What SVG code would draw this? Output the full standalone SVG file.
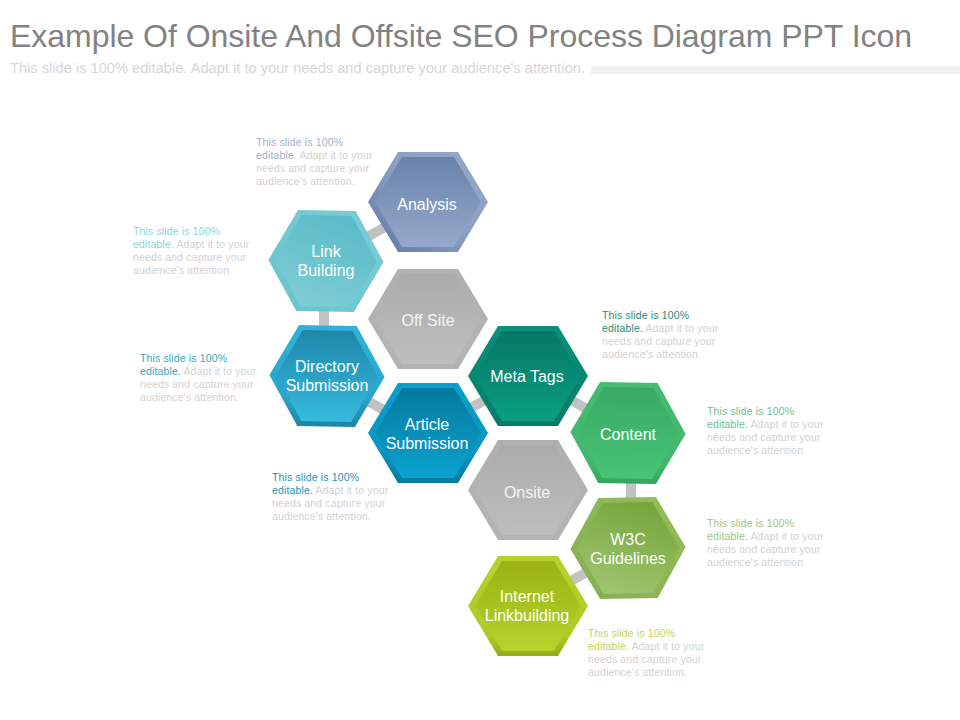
<svg xmlns="http://www.w3.org/2000/svg" xmlns:xlink="http://www.w3.org/1999/xlink" width="960" height="720" viewBox="0 0 960 720">
<style>
text{font-family:"Liberation Sans",Arial,sans-serif}
.title{font-size:32px;fill:#828282}
.sub{font-size:14px;fill:#d6d6d6}
.lbl{font-size:16px;fill:#fff;text-anchor:middle}
.lblg{font-size:16px;fill:#f4f4f4;text-anchor:middle}
.d{font-size:10.5px;fill:#d2d2d2;letter-spacing:.14px}
.c{stroke:#c2c2c2;stroke-width:10;fill:none}
</style>
<defs>
<polygon id="o" points="-60,0 -30,-50 30,-50 60,0 30,50 -30,50"/>
<polygon id="i" points="-53,0 -26,-45 26,-45 53,0 26,45 -26,45"/>
<linearGradient id="aO" x1="1" y1="0" x2="0" y2="1"><stop offset="0" stop-color="#98aac9"/><stop offset=".5" stop-color="#8a9ec0"/><stop offset="1" stop-color="#5d76a5"/></linearGradient>
<linearGradient id="aI" x1="0" y1="0" x2="0" y2="1"><stop offset="0" stop-color="#6983ac"/><stop offset="1" stop-color="#95a8ca"/></linearGradient>
<linearGradient id="lO" x1="1" y1="0" x2="0" y2="1"><stop offset="0" stop-color="#7ccdd5"/><stop offset="1" stop-color="#68c3cd"/></linearGradient>
<linearGradient id="lI" x1="0.7" y1="0" x2="0.3" y2="1"><stop offset="0" stop-color="#58bbc8"/><stop offset="1" stop-color="#80ccd5"/></linearGradient>
<linearGradient id="gO" x1="0" y1="0" x2="0" y2="1"><stop offset="0" stop-color="#b0b0b0"/><stop offset="1" stop-color="#b4b4b4"/></linearGradient>
<linearGradient id="gI" x1="0" y1="0" x2="0" y2="1"><stop offset="0" stop-color="#ababab"/><stop offset="1" stop-color="#bebebe"/></linearGradient>
<linearGradient id="dO" x1="0" y1="0" x2="0" y2="1"><stop offset="0" stop-color="#2fb3d9"/><stop offset=".7" stop-color="#2aa5c9"/><stop offset="1" stop-color="#1c86a6"/></linearGradient>
<linearGradient id="dI" x1="0" y1="0" x2="0" y2="1"><stop offset="0" stop-color="#1f87ab"/><stop offset="1" stop-color="#35bbde"/></linearGradient>
<linearGradient id="rO" x1="0" y1="0" x2="0" y2="1"><stop offset="0" stop-color="#0a9fcc"/><stop offset=".7" stop-color="#0995c0"/><stop offset="1" stop-color="#067b9f"/></linearGradient>
<linearGradient id="rI" x1="0" y1="0" x2="0" y2="1"><stop offset="0" stop-color="#067a9f"/><stop offset="1" stop-color="#0aa2cf"/></linearGradient>
<linearGradient id="mO" x1="0" y1="0" x2="0" y2="1"><stop offset="0" stop-color="#08917a"/><stop offset="1" stop-color="#067b68"/></linearGradient>
<linearGradient id="mI" x1="0" y1="0" x2="0" y2="1"><stop offset="0" stop-color="#047866"/><stop offset="1" stop-color="#0a9d82"/></linearGradient>
<linearGradient id="cO" x1="0" y1="0" x2="0" y2="1"><stop offset="0" stop-color="#47bb70"/><stop offset=".8" stop-color="#42b86e"/><stop offset="1" stop-color="#32a65f"/></linearGradient>
<linearGradient id="cI" x1="0" y1="0" x2="0" y2="1"><stop offset="0" stop-color="#38aa63"/><stop offset="1" stop-color="#47c476"/></linearGradient>
<linearGradient id="wO" x1="1" y1="0" x2="0" y2="1"><stop offset="0" stop-color="#93bf58"/><stop offset="1" stop-color="#86ae55"/></linearGradient>
<linearGradient id="wI" x1="0.7" y1="0" x2="0.3" y2="1"><stop offset="0" stop-color="#74a63a"/><stop offset="1" stop-color="#a0c570"/></linearGradient>
<linearGradient id="nO" x1="0" y1="0" x2="0" y2="1"><stop offset="0" stop-color="#b3d32c"/><stop offset=".8" stop-color="#aecb28"/><stop offset="1" stop-color="#93ab14"/></linearGradient>
<linearGradient id="nI" x1="0" y1="0" x2="0" y2="1"><stop offset="0" stop-color="#9bb211"/><stop offset="1" stop-color="#b4d52c"/></linearGradient>
</defs>
<rect width="960" height="720" fill="#fff"/>
<text class="title" x="10" y="47" textLength="902" lengthAdjust="spacing">Example Of Onsite And Offsite SEO Process Diagram PPT Icon</text>
<text class="sub" x="10" y="73" textLength="575" lengthAdjust="spacingAndGlyphs">This slide is 100% editable. Adapt it to your needs and capture your audience's attention.</text>
<rect x="591" y="66" width="369" height="8" fill="#f1f1f1"/>
<g id="connectors">
<path class="c" d="M360,241L394,222"/>
<path class="c" d="M324,305V332"/>
<path class="c" d="M361,397L394,416"/>
<path class="c" d="M462,413L494,395"/>
<path class="c" d="M562,395L594,413"/>
<path class="c" d="M631,478V505"/>
<path class="c" d="M562,586L594,568"/>
</g>
<g id="analysis"><use xlink:href="#o" href="#o" transform="translate(428,202)" fill="url(#aO)"/><use href="#i" xlink:href="#i" transform="translate(428,202)" fill="url(#aI)"/><text class="lbl" x="427" y="210">Analysis</text></g>
<g id="link-building"><use href="#o" xlink:href="#o" transform="translate(326,261) rotate(1) scale(.96,1.01)" fill="url(#lO)"/><use href="#i" xlink:href="#i" transform="translate(326,261) rotate(1) scale(.96,1.01)" fill="url(#lI)"/><text class="lbl" x="326" y="257">Link</text><text class="lbl" x="326" y="276">Building</text></g>
<g id="off-site"><use href="#o" xlink:href="#o" transform="translate(428,319)" fill="url(#gO)"/><use href="#i" xlink:href="#i" transform="translate(428,319)" fill="url(#gI)"/><text class="lblg" x="428" y="326">Off Site</text></g>
<g id="directory-submission"><use href="#o" xlink:href="#o" transform="translate(327,376) rotate(1) scale(.96,1.01)" fill="url(#dO)"/><use href="#i" xlink:href="#i" transform="translate(327,376) rotate(1) scale(.96,1.01)" fill="url(#dI)"/><text class="lbl" x="327" y="372">Directory</text><text class="lbl" x="327" y="391">Submission</text></g>
<g id="article-submission"><use href="#o" xlink:href="#o" transform="translate(428,433)" fill="url(#rO)"/><use href="#i" xlink:href="#i" transform="translate(428,433)" fill="url(#rI)"/><text class="lbl" x="427" y="430">Article</text><text class="lbl" x="427" y="449">Submission</text></g>
<g id="meta-tags"><use href="#o" xlink:href="#o" transform="translate(528,376)" fill="url(#mO)"/><use href="#i" xlink:href="#i" transform="translate(528,376)" fill="url(#mI)"/><text class="lbl" x="527" y="382">Meta Tags</text></g>
<g id="content"><use href="#o" xlink:href="#o" transform="translate(628,433) rotate(1) scale(.96,1.01)" fill="url(#cO)"/><use href="#i" xlink:href="#i" transform="translate(628,433) rotate(1) scale(.96,1.01)" fill="url(#cI)"/><text class="lbl" x="628" y="440">Content</text></g>
<g id="onsite"><use href="#o" xlink:href="#o" transform="translate(528,490)" fill="url(#gO)"/><use href="#i" xlink:href="#i" transform="translate(528,490)" fill="url(#gI)"/><text class="lblg" x="527" y="498">Onsite</text></g>
<g id="w3c-guidelines"><use href="#o" xlink:href="#o" transform="translate(628,548) rotate(-1) scale(.96,1.01)" fill="url(#wO)"/><use href="#i" xlink:href="#i" transform="translate(628,548) rotate(-1) scale(.96,1.01)" fill="url(#wI)"/><text class="lbl" x="628" y="545">W3C</text><text class="lbl" x="628" y="564">Guidelines</text></g>
<g id="internet-linkbuilding"><use href="#o" xlink:href="#o" transform="translate(528,606)" fill="url(#nO)"/><use href="#i" xlink:href="#i" transform="translate(528,606)" fill="url(#nI)"/><text class="lbl" x="527" y="602">Internet</text><text class="lbl" x="527" y="621">Linkbuilding</text></g>
<g id="notes">
<text class="d" x="256" y="146"><tspan fill="#9fb0cc">This slide is 100%</tspan><tspan x="256" dy="13" fill="#9fb0cc">editable.</tspan> Adapt it to your<tspan x="256" dy="13">needs and capture your</tspan><tspan x="256" dy="13">audience's attention.</tspan></text>
<text class="d" x="133" y="235"><tspan fill="#8fd3da">This slide is 100%</tspan><tspan x="133" dy="13" fill="#8fd3da">editable.</tspan> Adapt it to your<tspan x="133" dy="13">needs and capture your</tspan><tspan x="133" dy="13">audience's attention.</tspan></text>
<text class="d" x="140" y="362"><tspan fill="#3ca5c2">This slide is 100%</tspan><tspan x="140" dy="13" fill="#3ca5c2">editable.</tspan> Adapt it to your<tspan x="140" dy="13">needs and capture your</tspan><tspan x="140" dy="13">audience's attention.</tspan></text>
<text class="d" x="272" y="481"><tspan fill="#1c95bb">This slide is 100%</tspan><tspan x="272" dy="13" fill="#1c95bb">editable.</tspan> Adapt it to your<tspan x="272" dy="13">needs and capture your</tspan><tspan x="272" dy="13">audience's attention.</tspan></text>
<text class="d" x="602" y="319"><tspan fill="#1f8d7a">This slide is 100%</tspan><tspan x="602" dy="13" fill="#1f8d7a">editable.</tspan> Adapt it to your<tspan x="602" dy="13">needs and capture your</tspan><tspan x="602" dy="13">audience's attention.</tspan></text>
<text class="d" x="707" y="415"><tspan fill="#6fc08e">This slide is 100%</tspan><tspan x="707" dy="13" fill="#6fc08e">editable.</tspan> Adapt it to your<tspan x="707" dy="13">needs and capture your</tspan><tspan x="707" dy="13">audience's attention.</tspan></text>
<text class="d" x="707" y="527"><tspan fill="#a3c27c">This slide is 100%</tspan><tspan x="707" dy="13" fill="#a3c27c">editable.</tspan> Adapt it to your<tspan x="707" dy="13">needs and capture your</tspan><tspan x="707" dy="13">audience's attention.</tspan></text>
<text class="d" x="588" y="637"><tspan fill="#bed655">This slide is 100%</tspan><tspan x="588" dy="13" fill="#bed655">editable.</tspan> Adapt it to your<tspan x="588" dy="13">needs and capture your</tspan><tspan x="588" dy="13">audience's attention.</tspan></text>
</g>
</svg>
